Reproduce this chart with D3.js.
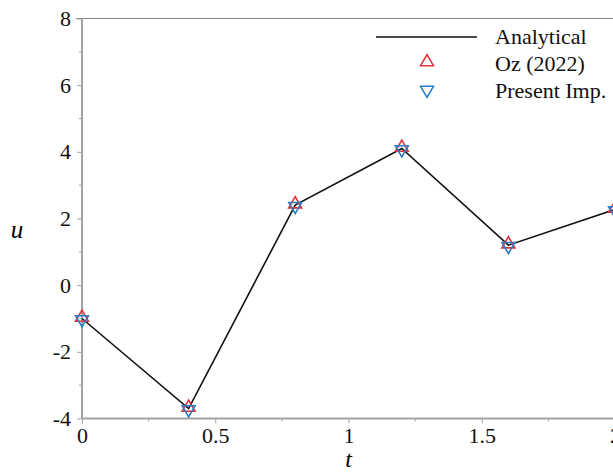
<!DOCTYPE html>
<html>
<head>
<meta charset="utf-8">
<script src="https://cdn.jsdelivr.net/npm/d3@7"></script>
<style>
  body { margin: 0; background: #fff; }
</style>
</head>
<body>
<svg id="chart" width="613" height="473"></svg>
<script>
// --- data ---
const tValues = [0, 0.4, 0.8, 1.2, 1.6, 2.0];
const analytical = [-1, -3.7, 2.4, 4.1, 1.2, 2.27];
const oz2022 = [-1, -3.7, 2.4, 4.1, 1.2, 2.27];
const present = [-1, -3.7, 2.4, 4.1, 1.2, 2.27];
const xTicks = [0, 0.5, 1, 1.5, 2];
const yTicks = [-4, -2, 0, 2, 4, 6, 8];
const legendLabels = ["Analytical", "Oz (2022)", "Present Imp."];

const serif = "'Liberation Serif', 'Times New Roman', serif";
const svg = d3.select("#chart");
const x = d3.scaleLinear().domain([0, 2]).range([82, 615]);
const y = d3.scaleLinear().domain([-4, 8]).range([418.5, 18.5]);

const axisColor = "#a3a3a3";
const red = "#e0343a";
const blue = "#2a7cc6";

// top frame line
svg.append("line")
  .attr("x1", 76).attr("x2", 613)
  .attr("y1", y(8)).attr("y2", y(8))
  .attr("stroke", "#8a8a8a").attr("stroke-width", 1.2);

// x axis
const fmt = d => String(d); // plain hyphen minus like the original
const xAxis = d3.axisBottom(x).tickValues(xTicks).tickSize(5).tickPadding(4).tickFormat(fmt);
const gx = svg.append("g").attr("transform", `translate(0,${y(-4)})`).call(xAxis);
svg.append("g").attr("transform", `translate(0,${y(-4)})`)
  .selectAll("line").data([0.25, 0.75, 1.25, 1.75]).join("line")
  .attr("x1", d => x(d)).attr("x2", d => x(d))
  .attr("y1", 0).attr("y2", 3)
  .attr("stroke", axisColor);

// y axis
const yAxis = d3.axisLeft(y).tickValues(yTicks).tickSize(5).tickPadding(6).tickFormat(fmt);
const gy = svg.append("g").attr("transform", `translate(${x(0)},0)`).call(yAxis);
svg.append("g").attr("transform", `translate(${x(0)},0)`)
  .selectAll("line").data([-3, -1, 1, 3, 5, 7]).join("line")
  .attr("x1", 0).attr("x2", -3)
  .attr("y1", d => y(d)).attr("y2", d => y(d))
  .attr("stroke", axisColor);

[gx, gy].forEach(g => {
  g.attr("font-family", null).attr("font-size", null);
  g.select(".domain").attr("stroke", axisColor).attr("stroke-width", 2);
  g.selectAll(".tick line").attr("stroke", axisColor);
  g.selectAll(".tick text")
    .style("font-family", serif).style("font-size", "22px").attr("fill", "#111");
});
gy.select(".domain").attr("d", `M0,${y(8)}V${y(-4)}`);
gx.select(".domain").attr("d", `M${x(0)},0H613`);

// axis titles
svg.append("text").attr("x", x(1)).attr("y", 467)
  .attr("text-anchor", "middle")
  .style("font-family", serif).style("font-style", "italic").style("font-size", "24px")
  .text("t");
svg.append("text").attr("x", 17).attr("y", 238)
  .attr("text-anchor", "middle")
  .style("font-family", serif).style("font-style", "italic").style("font-size", "25px")
  .text("u");

// line
const pts = tValues.map((t, i) => [t, analytical[i]]);
svg.append("path")
  .datum(pts)
  .attr("fill", "none").attr("stroke", "#111").attr("stroke-width", 1.6)
  .attr("d", d3.line().x(d => x(d[0])).y(d => y(d[1])));

// markers
const triUp = d3.symbol().type(d3.symbolTriangle).size(72);
svg.append("g").selectAll("path").data(tValues.map((t, i) => [t, oz2022[i]])).join("path")
  .attr("d", triUp)
  .attr("transform", d => `translate(${x(d[0])},${y(d[1]) - 1})`)
  .attr("fill", "none").attr("stroke", red).attr("stroke-width", 1.6);
svg.append("g").selectAll("path").data(tValues.map((t, i) => [t, present[i]])).join("path")
  .attr("d", triUp)
  .attr("transform", d => `translate(${x(d[0])},${y(d[1]) + 1}) rotate(180)`)
  .attr("fill", "none").attr("stroke", blue).attr("stroke-width", 1.6);

// legend
const lg = svg.append("g");
lg.append("line").attr("x1", 376).attr("x2", 477).attr("y1", 37).attr("y2", 37)
  .attr("stroke", "#111").attr("stroke-width", 1.6);
lg.append("path").attr("d", triUp).attr("transform", "translate(427,62)")
  .attr("fill", "none").attr("stroke", red).attr("stroke-width", 1.6);
lg.append("path").attr("d", triUp).attr("transform", "translate(427,90) rotate(180)")
  .attr("fill", "none").attr("stroke", blue).attr("stroke-width", 1.6);
lg.selectAll("text").data(legendLabels).join("text")
  .attr("x", 495).attr("y", (d, i) => 44 + i * 27)
  .style("font-family", serif).style("font-size", "22px").attr("fill", "#111")
  .text(d => d);
</script>
</body>
</html>
